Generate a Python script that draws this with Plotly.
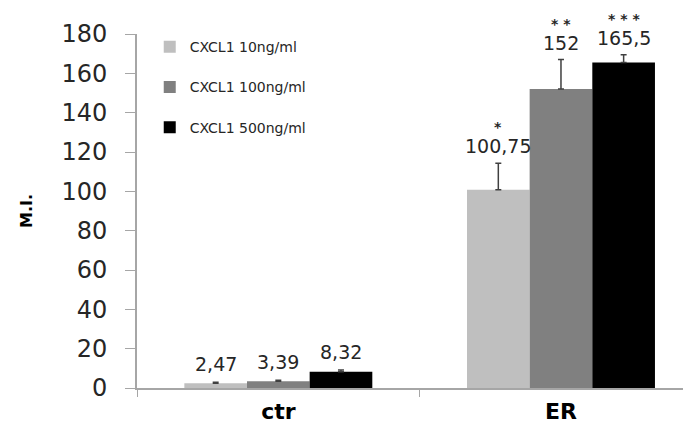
import plotly.graph_objects as go

categories = ["ctr", "ER"]
series_names = ["CXCL1 10ng/ml", "CXCL1 100ng/ml", "CXCL1 500ng/ml"]
values = [[2.47, 100.75], [3.39, 152.0], [8.32, 165.5]]
errors = [[0.5, 13.5], [0.6, 15.0], [0.8, 4.0]]
labels = [["2,47", "100,75"], ["3,39", "152"], ["8,32", "165,5"]]
stars = [["", "*"], ["", "* *"], ["", "* * *"]]
colors = ["#BFBFBF", "#808080", "#000000"]

FONT = "DejaVu Sans, sans-serif"
fig = go.Figure()
for i, name in enumerate(series_names):
    fig.add_trace(go.Bar(
        x=categories, y=values[i], name=name, legendgroup=name,
        marker=dict(color=colors[i], line=dict(width=0)),
        error_y=dict(type="data", array=errors[i], arrayminus=[0, 0], symmetric=False,
                     color="#404040", thickness=1.5, width=3),
        offsetgroup=str(i),
    ))

n = len(series_names)
bargap = 0.335
bw = (1 - bargap) / n
for i in range(n):
    for j, cat in enumerate(categories):
        xoff = j + (i - (n - 1) / 2) * bw
        top = values[i][j] + errors[i][j]
        ys = 4 if stars[i][j] else 5
        fig.add_annotation(
            x=xoff, y=top, xref="x", yref="y",
            text=labels[i][j], showarrow=False, yanchor="bottom", yshift=ys,
            font=dict(family=FONT, size=19, color="#262626"),
        )
        if stars[i][j]:
            fig.add_annotation(
                x=xoff, y=top, xref="x", yref="y",
                text="<b>" + stars[i][j] + "</b>", showarrow=False, yanchor="bottom",
                yshift=ys + 22,
                font=dict(family=FONT, size=14, color="#262626"),
            )

fig.update_layout(
    width=683, height=420,
    margin=dict(l=129, r=0, t=26, b=40),
    paper_bgcolor="white", plot_bgcolor="white",
    barmode="group", bargap=bargap, bargroupgap=0,
    font=dict(family=FONT, color="#262626"),
    showlegend=True,
    legend=dict(x=0.023, y=1.008, xanchor="left", yanchor="top",
                font=dict(family=FONT, size=14, color="#262626"),
                tracegroupgap=19, traceorder="grouped",
                bgcolor="rgba(0,0,0,0)", itemwidth=30),
    xaxis=dict(type="category", range=[-0.5, 1.46], showline=True, linecolor="#A6A6A6",
               linewidth=2, ticks="outside", tickson="boundaries", ticklen=7,
               tickcolor="#A6A6A6", tickfont=dict(family=FONT, size=22, color="#000000"),
               ticklabelstandoff=3,
               showgrid=False, zeroline=False,
               tickvals=categories, ticktext=["<b>ctr</b>", "<b>ER</b>"]),
    yaxis=dict(range=[0, 180], dtick=20, showline=True, linecolor="#A6A6A6", linewidth=2,
               ticks="outside", ticklen=10, tickcolor="#A6A6A6", showgrid=False,
               ticklabelstandoff=13,
               zeroline=False, tickfont=dict(family=FONT, size=24, color="#262626"),
               title=dict(text="<b>M.I.</b>", font=dict(family=FONT, size=16, color="#000000"),
                          standoff=25)),
)
fig.write_html("out.html")
